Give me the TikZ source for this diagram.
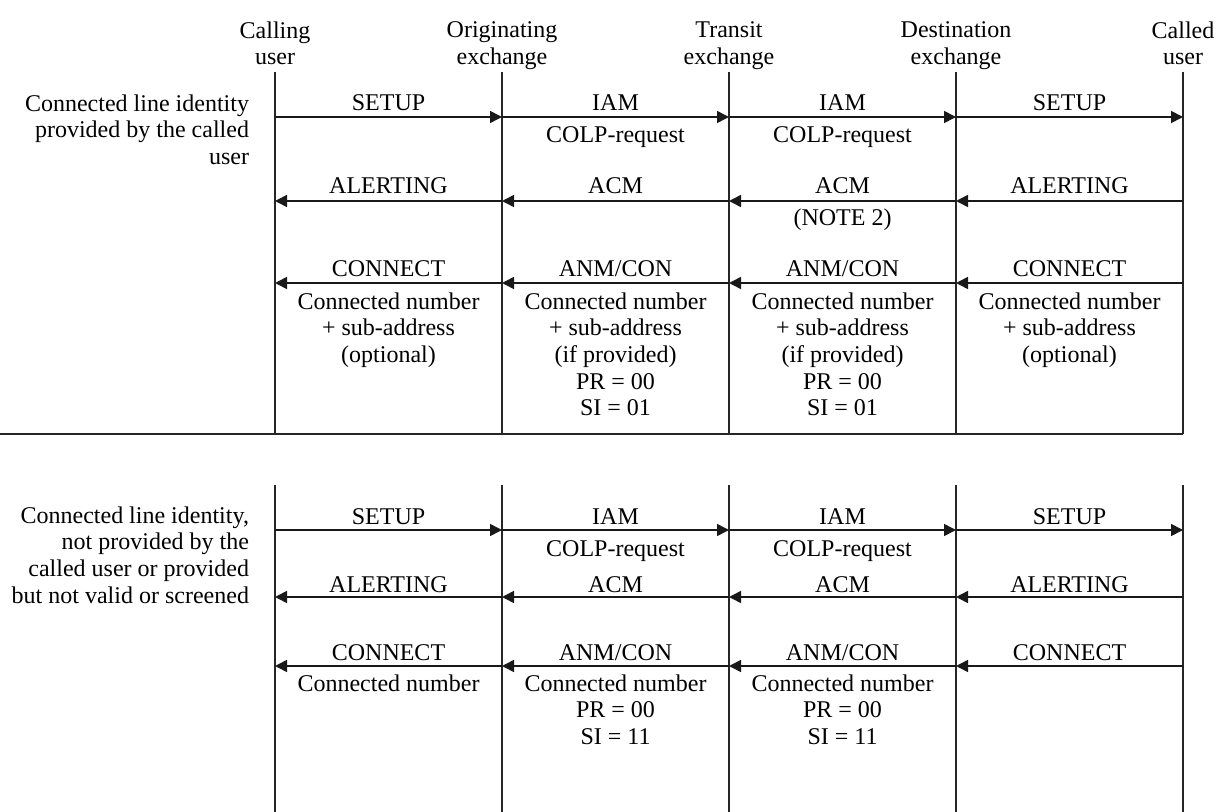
\documentclass[tikz,border=0pt]{standalone}
\usepackage{fontspec}
\setmainfont{Liberation Serif}
\usetikzlibrary{arrows.meta}
\begin{document}
\begin{tikzpicture}[x=0.5pt,y=-0.5pt,
  every node/.style={font=\fontsize{12}{13.35}\selectfont, inner sep=0pt, outer sep=0pt},
  life/.style={line width=0.8pt, draw=black!85},
  msg/.style={line width=0.8pt, draw=black!90, -{Triangle[length=6pt,width=6pt]}},
  lbl/.style={anchor=base},
  cell/.style={anchor=north, align=center},
  hdr/.style={anchor=north, align=center},
  side/.style={anchor=north east, align=right}]
\useasboundingbox (0,0) rectangle (1218,812);
% lifeline coordinates
\foreach \i/\x in {1/275,2/502,3/729,4/956,5/1183}{
  \coordinate (a\i) at (\x,72);
  \coordinate (b\i) at (\x,434);
  \coordinate (c\i) at (\x,485);
  \coordinate (d\i) at (\x,812);
}
\foreach \i in {1,...,5}{
  \draw[life] (a\i) -- (b\i);
  \draw[life] (c\i) -- (d\i);
}
\coordinate (s0) at (0,434);
\draw[life] (s0) -- (b5);
% rows
\coordinate (r1) at (0,117);
\coordinate (r2) at (0,201);
\coordinate (r3) at (0,283);
\coordinate (r4) at (0,530);
\coordinate (r5) at (0,597);
\coordinate (r6) at (0,666);
% headers
\node[hdr] (h1) at (275,21.5) {Calling\\user};
\node[hdr] (h2) at (502,21.5) {Originating\\exchange};
\node[hdr] (h3) at (729,21.5) {Transit\\exchange};
\node[hdr] (h4) at (956,21.5) {Destination\\exchange};
\node[hdr] (h5) at (1183,21.5) {Called\\user};
% side labels
\node[side] (lt) at (249,94.5) {Connected line identity\\provided by the called\\user};
\node[side] (lb) at (249,506.5) {Connected line identity,\\not provided by the\\called user or provided\\but not valid or screened};
% ---------- top section ----------
\draw[msg] (a1|-r1) -- (a2|-r1);
\draw[msg] (a2|-r1) -- (a3|-r1);
\draw[msg] (a3|-r1) -- (a4|-r1);
\draw[msg] (a4|-r1) -- (a5|-r1);
\node[lbl] (t11) at (388.5,111) {SETUP};
\node[lbl] (t12) at (615.5,111) {IAM};
\node[lbl] (t13) at (842.5,111) {IAM};
\node[lbl] (t14) at (1069.5,111) {SETUP};
\node[lbl] (t12b) at (615.5,143) {COLP-request};
\node[lbl] (t13b) at (842.5,143) {COLP-request};

\draw[msg] (a2|-r2) -- (a1|-r2);
\draw[msg] (a3|-r2) -- (a2|-r2);
\draw[msg] (a4|-r2) -- (a3|-r2);
\draw[msg] (a5|-r2) -- (a4|-r2);
\node[lbl] (t21) at (388.5,194) {ALERTING};
\node[lbl] (t22) at (615.5,194) {ACM};
\node[lbl] (t23) at (842.5,194) {ACM};
\node[lbl] (t24) at (1069.5,194) {ALERTING};
\node[lbl] (t23b) at (842.5,226) {(NOTE 2)};

\draw[msg] (a2|-r3) -- (a1|-r3);
\draw[msg] (a3|-r3) -- (a2|-r3);
\draw[msg] (a4|-r3) -- (a3|-r3);
\draw[msg] (a5|-r3) -- (a4|-r3);
\node[lbl] (t31) at (388.5,277) {CONNECT};
\node[lbl] (t32) at (615.5,277) {ANM/CON};
\node[lbl] (t33) at (842.5,277) {ANM/CON};
\node[lbl] (t34) at (1069.5,277) {CONNECT};
\node[cell] (t31b) at (388.5,292.5) {Connected number\\+ sub-address\\(optional)};
\node[cell] (t32b) at (615.5,292.5) {Connected number\\+ sub-address\\(if provided)\\PR = 00\\SI = 01};
\node[cell] (t33b) at (842.5,292.5) {Connected number\\+ sub-address\\(if provided)\\PR = 00\\SI = 01};
\node[cell] (t34b) at (1069.5,292.5) {Connected number\\+ sub-address\\(optional)};
% ---------- bottom section ----------
\draw[msg] (c1|-r4) -- (c2|-r4);
\draw[msg] (c2|-r4) -- (c3|-r4);
\draw[msg] (c3|-r4) -- (c4|-r4);
\draw[msg] (c4|-r4) -- (c5|-r4);
\node[lbl] (u11) at (388.5,524) {SETUP};
\node[lbl] (u12) at (615.5,524) {IAM};
\node[lbl] (u13) at (842.5,524) {IAM};
\node[lbl] (u14) at (1069.5,524) {SETUP};
\node[lbl] (u12b) at (615.5,556) {COLP-request};
\node[lbl] (u13b) at (842.5,556) {COLP-request};

\draw[msg] (c2|-r5) -- (c1|-r5);
\draw[msg] (c3|-r5) -- (c2|-r5);
\draw[msg] (c4|-r5) -- (c3|-r5);
\draw[msg] (c5|-r5) -- (c4|-r5);
\node[lbl] (u21) at (388.5,592) {ALERTING};
\node[lbl] (u22) at (615.5,592) {ACM};
\node[lbl] (u23) at (842.5,592) {ACM};
\node[lbl] (u24) at (1069.5,592) {ALERTING};

\draw[msg] (c2|-r6) -- (c1|-r6);
\draw[msg] (c3|-r6) -- (c2|-r6);
\draw[msg] (c4|-r6) -- (c3|-r6);
\draw[msg] (c5|-r6) -- (c4|-r6);
\node[lbl] (u31) at (388.5,660) {CONNECT};
\node[lbl] (u32) at (615.5,660) {ANM/CON};
\node[lbl] (u33) at (842.5,660) {ANM/CON};
\node[lbl] (u34) at (1069.5,660) {CONNECT};
\node[cell] (u31b) at (388.5,674.5) {Connected number};
\node[cell] (u32b) at (615.5,674.5) {Connected number\\PR = 00\\SI = 11};
\node[cell] (u33b) at (842.5,674.5) {Connected number\\PR = 00\\SI = 11};
\end{tikzpicture}
\end{document}
